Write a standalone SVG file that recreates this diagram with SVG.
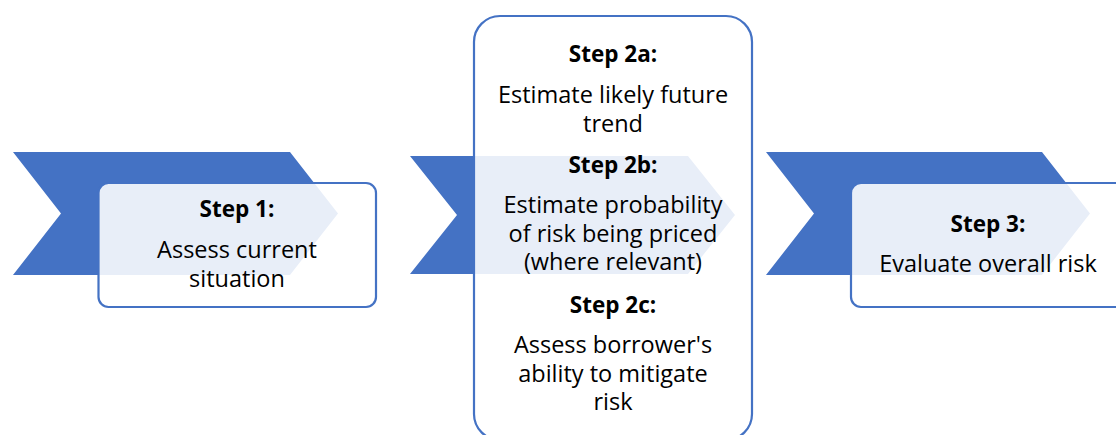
<svg xmlns="http://www.w3.org/2000/svg" width="1116" height="435" viewBox="0 0 1116 435">
  <style>
    .chev { fill: #4472C4; }
    .box { fill: #FFFFFF; fill-opacity: 0.88; stroke: #4472C4; stroke-width: 2.2; }
    .t { font-family: "Open Sans", "Liberation Sans", sans-serif; font-size: 23.5px; fill: #000000; text-anchor: middle; }
    .b { font-weight: bold; font-size: 22.5px; }
  </style>
  <rect width="1116" height="435" fill="#FFFFFF"/>
  <g id="step1">
    <polygon class="chev" points="13,152 290,152 338,213.5 290,275 13,275 61,213.5"/>
    <rect class="box" x="98.5" y="183" width="277.5" height="124" rx="10" ry="10"/>
    <text class="t b" x="237" y="217">Step 1:</text>
    <text class="t" x="237" y="258">Assess current</text>
    <text class="t" x="237" y="287">situation</text>
  </g>
  <g id="step2">
    <polygon class="chev" points="410,156 688,156 735,215 688,274 410,274 457,215"/>
    <rect class="box" x="474" y="16" width="278" height="424" rx="26" ry="26"/>
    <text class="t b" x="613" y="62">Step 2a:</text>
    <text class="t" x="613" y="103">Estimate likely future</text>
    <text class="t" x="613" y="132">trend</text>
    <text class="t b" x="613" y="172.5">Step 2b:</text>
    <text class="t" x="613" y="213">Estimate probability</text>
    <text class="t" x="613" y="241.5">of risk being priced</text>
    <text class="t" x="613" y="270">(where relevant)</text>
    <text class="t b" x="613" y="312.5">Step 2c:</text>
    <text class="t" x="613" y="352.5">Assess borrower's</text>
    <text class="t" x="613" y="381.5">ability to mitigate</text>
    <text class="t" x="613" y="410">risk</text>
  </g>
  <g id="step3">
    <polygon class="chev" points="766,152 1042,152 1090,213.5 1042,275 766,275 814,213.5"/>
    <rect class="box" x="851" y="183" width="277" height="124" rx="10" ry="10"/>
    <text class="t b" x="988" y="232">Step 3:</text>
    <text class="t" x="988" y="272">Evaluate overall risk</text>
  </g>
  <g id="connectors"/>
</svg>
